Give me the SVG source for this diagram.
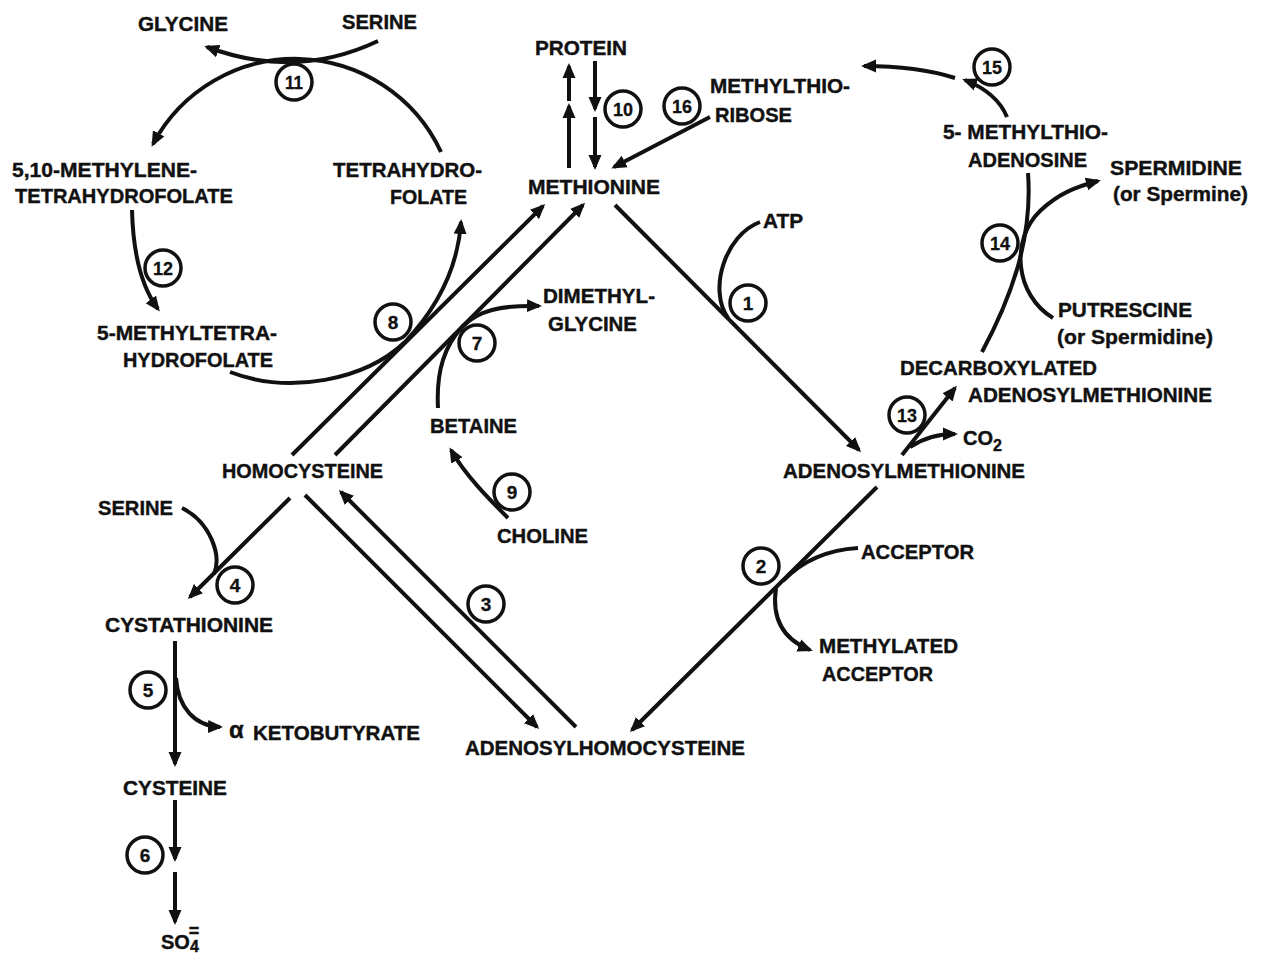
<svg xmlns="http://www.w3.org/2000/svg" width="1262" height="956" viewBox="0 0 1262 956">
<defs>
<style>
.t{font-family:"Liberation Sans",Arial,sans-serif;font-weight:bold;font-size:20px;fill:#111;stroke:#111;stroke-width:0.4}
.n{font-family:"Liberation Sans",Arial,sans-serif;font-weight:bold;font-size:19px;fill:#111;stroke:#111;stroke-width:0.3;text-anchor:middle}
.c{fill:#fff;stroke:#111;stroke-width:3.5}
.l{fill:none;stroke:#111;stroke-width:4}
.a{marker-end:url(#ah)}
</style>
<marker id="ah" markerUnits="userSpaceOnUse" markerWidth="16" markerHeight="14" refX="12" refY="6.5" orient="auto" viewBox="0 0 16 13">
<path d="M0,0 L15,6.5 L0,13 z" fill="#111"/>
</marker>
</defs>
<rect width="1262" height="956" fill="#fff"/>

<g id="connectors">
<path class="l a" d="M378,41 Q296,80 207,47"/>
<path class="l a" d="M441,152 A161,161 0 0 0 153,144"/>
<path class="l a" d="M132,210 C133,250 140,285 158,309"/>
<path class="l a" d="M230,372 C290,395 365,380 405,342 C440,305 458,265 461,222"/>
<path class="l a" d="M292,455 L543,206"/>
<path class="l a" d="M335,455 L583,205"/>
<path class="l a" d="M438,408 C436,370 445,345 463,326 C478,311 500,305 539,306"/>
<path class="l a" d="M508,518 C490,500 465,475 451,450"/>
<path class="l a" d="M569,168 L569,106"/>
<path class="l a" d="M569,101 L569,66"/>
<path class="l a" d="M595,61 L595,109"/>
<path class="l a" d="M595,117 L595,167"/>
<path class="l a" d="M710,117 L614,167"/>
<path class="l a" d="M615,205 L859,450"/>
<path class="l" d="M760,222 C725,235 708,290 728,318"/>
<path class="l a" d="M902,455 L955,388"/>
<path class="l a" d="M910,447 C925,437 940,434 955,434"/>
<path class="l" d="M982,352 C1010,300 1033,240 1028,173"/>
<path class="l a" d="M1053,318 C1015,295 1010,240 1040,211 C1058,194 1075,187 1098,181"/>
<path class="l a" d="M1007,117 C1000,100 985,88 965,80"/>
<path class="l a" d="M955,78 C930,70 900,66 864,66"/>
<path class="l a" d="M877,487 L632,730"/>
<path class="l" d="M858,548 C825,550 800,563 783,581"/>
<path class="l a" d="M776,588 C772,615 780,638 810,650"/>
<path class="l a" d="M305,495 L537,727"/>
<path class="l a" d="M576,727 L341,492"/>
<path class="l a" d="M290,498 L190,597"/>
<path class="l" d="M182,508 C210,522 222,555 214,574"/>
<path class="l a" d="M175,641 L175,764"/>
<path class="l a" d="M176,678 C178,708 195,726 220,727"/>
<path class="l a" d="M175,800 L175,859"/>
<path class="l a" d="M175,872 L175,922"/>
</g>

<g id="glycine1"><text class="t" x="138" y="31" textLength="90" lengthAdjust="spacingAndGlyphs">GLYCINE</text></g>
<g id="serine1"><text class="t" x="342" y="29" textLength="75" lengthAdjust="spacingAndGlyphs">SERINE</text></g>
<g id="methylene-thf"><text class="t" x="12" y="177" textLength="185" lengthAdjust="spacingAndGlyphs">5,10-METHYLENE-</text><text class="t" x="15" y="203" textLength="218" lengthAdjust="spacingAndGlyphs">TETRAHYDROFOLATE</text></g>
<g id="thf"><text class="t" x="333" y="177" textLength="149" lengthAdjust="spacingAndGlyphs">TETRAHYDRO-</text><text class="t" x="390" y="204" textLength="77" lengthAdjust="spacingAndGlyphs">FOLATE</text></g>
<g id="methyl-thf"><text class="t" x="97" y="340" textLength="180" lengthAdjust="spacingAndGlyphs">5-METHYLTETRA-</text><text class="t" x="123" y="367" textLength="150" lengthAdjust="spacingAndGlyphs">HYDROFOLATE</text></g>
<g id="protein"><text class="t" x="535" y="55" textLength="92" lengthAdjust="spacingAndGlyphs">PROTEIN</text></g>
<g id="mtr"><text class="t" x="710" y="93" textLength="140" lengthAdjust="spacingAndGlyphs">METHYLTHIO-</text><text class="t" x="715" y="122" textLength="77" lengthAdjust="spacingAndGlyphs">RIBOSE</text></g>
<g id="methionine"><text class="t" x="528" y="194" textLength="132" lengthAdjust="spacingAndGlyphs">METHIONINE</text></g>
<g id="atp"><text class="t" x="763" y="228" textLength="40" lengthAdjust="spacingAndGlyphs">ATP</text></g>
<g id="dmg"><text class="t" x="543" y="303" textLength="112" lengthAdjust="spacingAndGlyphs">DIMETHYL-</text><text class="t" x="548" y="331" textLength="89" lengthAdjust="spacingAndGlyphs">GLYCINE</text></g>
<g id="betaine"><text class="t" x="430" y="433" textLength="87" lengthAdjust="spacingAndGlyphs">BETAINE</text></g>
<g id="homocysteine"><text class="t" x="222" y="478" textLength="161" lengthAdjust="spacingAndGlyphs">HOMOCYSTEINE</text></g>
<g id="choline"><text class="t" x="497" y="543" textLength="91" lengthAdjust="spacingAndGlyphs">CHOLINE</text></g>
<g id="mta"><text class="t" x="943" y="139" textLength="165" lengthAdjust="spacingAndGlyphs">5- METHYLTHIO-</text><text class="t" x="968" y="167" textLength="119" lengthAdjust="spacingAndGlyphs">ADENOSINE</text></g>
<g id="spermidine"><text class="t" x="1110" y="175" textLength="132" lengthAdjust="spacingAndGlyphs">SPERMIDINE</text><text class="t" x="1113" y="201" textLength="135" lengthAdjust="spacingAndGlyphs">(or Spermine)</text></g>
<g id="putrescine"><text class="t" x="1058" y="317" textLength="134" lengthAdjust="spacingAndGlyphs">PUTRESCINE</text><text class="t" x="1057" y="344" textLength="156" lengthAdjust="spacingAndGlyphs">(or Spermidine)</text></g>
<g id="dcsam"><text class="t" x="900" y="375" textLength="197" lengthAdjust="spacingAndGlyphs">DECARBOXYLATED</text><text class="t" x="968" y="402" textLength="244" lengthAdjust="spacingAndGlyphs">ADENOSYLMETHIONINE</text></g>
<g id="co2"><text class="t" x="963" y="445">CO<tspan dy="6" font-size="16">2</tspan></text></g>
<g id="sam"><text class="t" x="783" y="478" textLength="242" lengthAdjust="spacingAndGlyphs">ADENOSYLMETHIONINE</text></g>
<g id="serine2"><text class="t" x="98" y="515" textLength="75" lengthAdjust="spacingAndGlyphs">SERINE</text></g>
<g id="acceptor"><text class="t" x="861" y="559" textLength="113" lengthAdjust="spacingAndGlyphs">ACCEPTOR</text></g>
<g id="cystathionine"><text class="t" x="105" y="632" textLength="168" lengthAdjust="spacingAndGlyphs">CYSTATHIONINE</text></g>
<g id="methylated-acceptor"><text class="t" x="819" y="653" textLength="139" lengthAdjust="spacingAndGlyphs">METHYLATED</text><text class="t" x="822" y="681" textLength="111" lengthAdjust="spacingAndGlyphs">ACCEPTOR</text></g>
<g id="ketobutyrate"><text class="t" x="229" y="738" style="font-size:24px">α<tspan x="253" y="740" style="font-size:20px" textLength="167" lengthAdjust="spacingAndGlyphs">KETOBUTYRATE</tspan></text></g>
<g id="sah"><text class="t" x="465" y="755" textLength="280" lengthAdjust="spacingAndGlyphs">ADENOSYLHOMOCYSTEINE</text></g>
<g id="cysteine"><text class="t" x="123" y="795" textLength="104" lengthAdjust="spacingAndGlyphs">CYSTEINE</text></g>
<g id="sulfate"><text class="t" x="161" y="949">SO<tspan dy="3" font-size="16">4</tspan><tspan dx="-10" dy="-15" font-size="18">=</tspan></text></g>

<g id="enzymes">
<g id="e1"><circle class="c" cx="748" cy="303" r="18"/><text class="n" x="748" y="310">1</text></g>
<g id="e2"><circle class="c" cx="761" cy="566" r="18"/><text class="n" x="761" y="573">2</text></g>
<g id="e3"><circle class="c" cx="486" cy="604" r="18"/><text class="n" x="486" y="611">3</text></g>
<g id="e4"><circle class="c" cx="235" cy="585" r="18"/><text class="n" x="235" y="592">4</text></g>
<g id="e5"><circle class="c" cx="148" cy="690" r="18"/><text class="n" x="148" y="697">5</text></g>
<g id="e6"><circle class="c" cx="145" cy="855" r="18"/><text class="n" x="145" y="862">6</text></g>
<g id="e7"><circle class="c" cx="477" cy="343" r="18"/><text class="n" x="477" y="350">7</text></g>
<g id="e8"><circle class="c" cx="393" cy="322" r="18"/><text class="n" x="393" y="329">8</text></g>
<g id="e9"><circle class="c" cx="512" cy="492" r="18"/><text class="n" x="512" y="499">9</text></g>
<g id="e10"><circle class="c" cx="623" cy="109" r="18"/><text class="n" x="623" y="116" textLength="20" lengthAdjust="spacingAndGlyphs">10</text></g>
<g id="e11"><circle class="c" cx="294" cy="82" r="18"/><text class="n" x="294" y="89" textLength="18" lengthAdjust="spacingAndGlyphs">11</text></g>
<g id="e12"><circle class="c" cx="163" cy="268" r="18"/><text class="n" x="163" y="275" textLength="20" lengthAdjust="spacingAndGlyphs">12</text></g>
<g id="e13"><circle class="c" cx="907" cy="415" r="18"/><text class="n" x="907" y="422" textLength="20" lengthAdjust="spacingAndGlyphs">13</text></g>
<g id="e14"><circle class="c" cx="1000" cy="243" r="18"/><text class="n" x="1000" y="250" textLength="20" lengthAdjust="spacingAndGlyphs">14</text></g>
<g id="e15"><circle class="c" cx="992" cy="67" r="18"/><text class="n" x="992" y="74" textLength="20" lengthAdjust="spacingAndGlyphs">15</text></g>
<g id="e16"><circle class="c" cx="682" cy="106" r="18"/><text class="n" x="682" y="113" textLength="20" lengthAdjust="spacingAndGlyphs">16</text></g>
</g>
</svg>
